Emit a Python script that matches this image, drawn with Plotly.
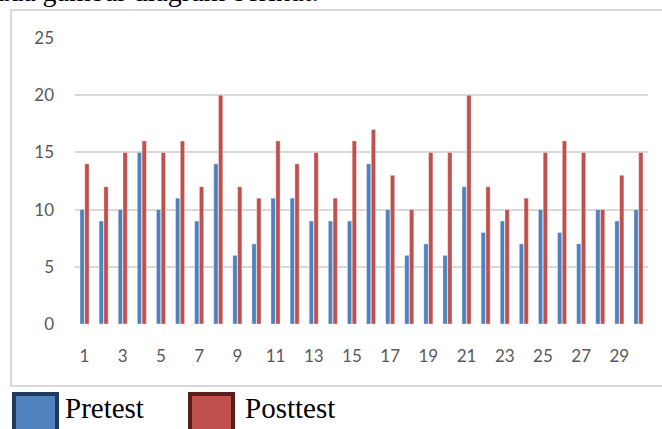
import plotly.graph_objects as go

categories = list(range(1, 31))
pretest = [10, 9, 10, 15, 10, 11, 9, 14, 6, 7, 11, 11, 9, 9, 9, 14, 10, 6, 7, 6, 12, 8, 9, 7, 10, 8, 7, 10, 9, 10]
posttest = [14, 12, 15, 16, 15, 16, 12, 20, 12, 11, 16, 14, 15, 11, 16, 17, 13, 10, 15, 15, 20, 12, 10, 11, 15, 16, 15, 10, 13, 15]
x_ticks = list(range(1, 30, 2))
y_ticks = [0, 5, 10, 15, 20, 25]
legend_names = ["Pretest", "Posttest"]

W, H = 662, 429
BLUE, RED = "#4F81BD", "#C0504D"

def px(x):
    return x / W

def py(y):
    return 1 - y / H

fig = go.Figure()
fig.add_bar(x=categories, y=pretest, name=legend_names[0], marker=dict(color=BLUE, line=dict(color="rgba(255,255,255,0.6)", width=0.6)))
fig.add_bar(x=categories, y=posttest, name=legend_names[1], marker=dict(color=RED, line=dict(color="rgba(255,255,255,0.6)", width=0.6)))

shapes = [
    dict(type="rect", xref="paper", yref="paper", x0=px(11), x1=px(680), y0=py(386), y1=py(10),
         line=dict(color="#D9D9D9", width=2), fillcolor="rgba(0,0,0,0)", layer="below"),
    dict(type="rect", xref="paper", yref="paper", x0=px(14), x1=px(57), y0=py(440), y1=py(394),
         line=dict(color="#1F3A5F", width=4), fillcolor=BLUE),
    dict(type="rect", xref="paper", yref="paper", x0=px(190), x1=px(233), y0=py(440), y1=py(394),
         line=dict(color="#5A1E1C", width=4), fillcolor=RED),
]

annotations = [
    dict(text=legend_names[0], xref="paper", yref="paper", x=px(63), y=py(408), xanchor="left", yanchor="middle",
         showarrow=False, font=dict(family="Liberation Serif", size=29, color="black")),
    dict(text=legend_names[1], xref="paper", yref="paper", x=px(243), y=py(408), xanchor="left", yanchor="middle",
         showarrow=False, font=dict(family="Liberation Serif", size=29, color="black")),
    dict(text="lihat pada gambar diagram berikut.", xref="paper", yref="paper", x=px(321), y=py(-8),
         xanchor="right", yanchor="middle", showarrow=False,
         font=dict(family="Liberation Serif", size=28, color="black")),
]

fig.update_layout(
    width=W, height=H,
    margin=dict(l=0, r=0, t=0, b=0),
    paper_bgcolor="white", plot_bgcolor="white",
    barmode="group", bargap=0.5, bargroupgap=0.1,
    showlegend=False,
    shapes=shapes, annotations=annotations,
    xaxis=dict(domain=[px(75), px(648)], range=[0.5, 30.5], tickmode="array", tickvals=x_ticks,
               ticktext=[str(v) for v in x_ticks], showgrid=False, zeroline=False, showline=False,
               ticks="", ticklabelstandoff=20, automargin=False,
               tickfont=dict(family="Lato", size=17, color="#595959")),
    yaxis=dict(domain=[py(324), py(38)], range=[0, 25], tickmode="array", tickvals=y_ticks,
               showgrid=True, gridcolor="#D9D9D9", gridwidth=1.5, zeroline=False, showline=False,
               ticks="", ticklabelstandoff=20, automargin=False,
               tickfont=dict(family="Lato", size=17, color="#595959")),
)

fig.write_html("out.html", config={"displayModeBar": False},
               post_script="document.body.style.margin='0';document.body.style.overflow='hidden';")
